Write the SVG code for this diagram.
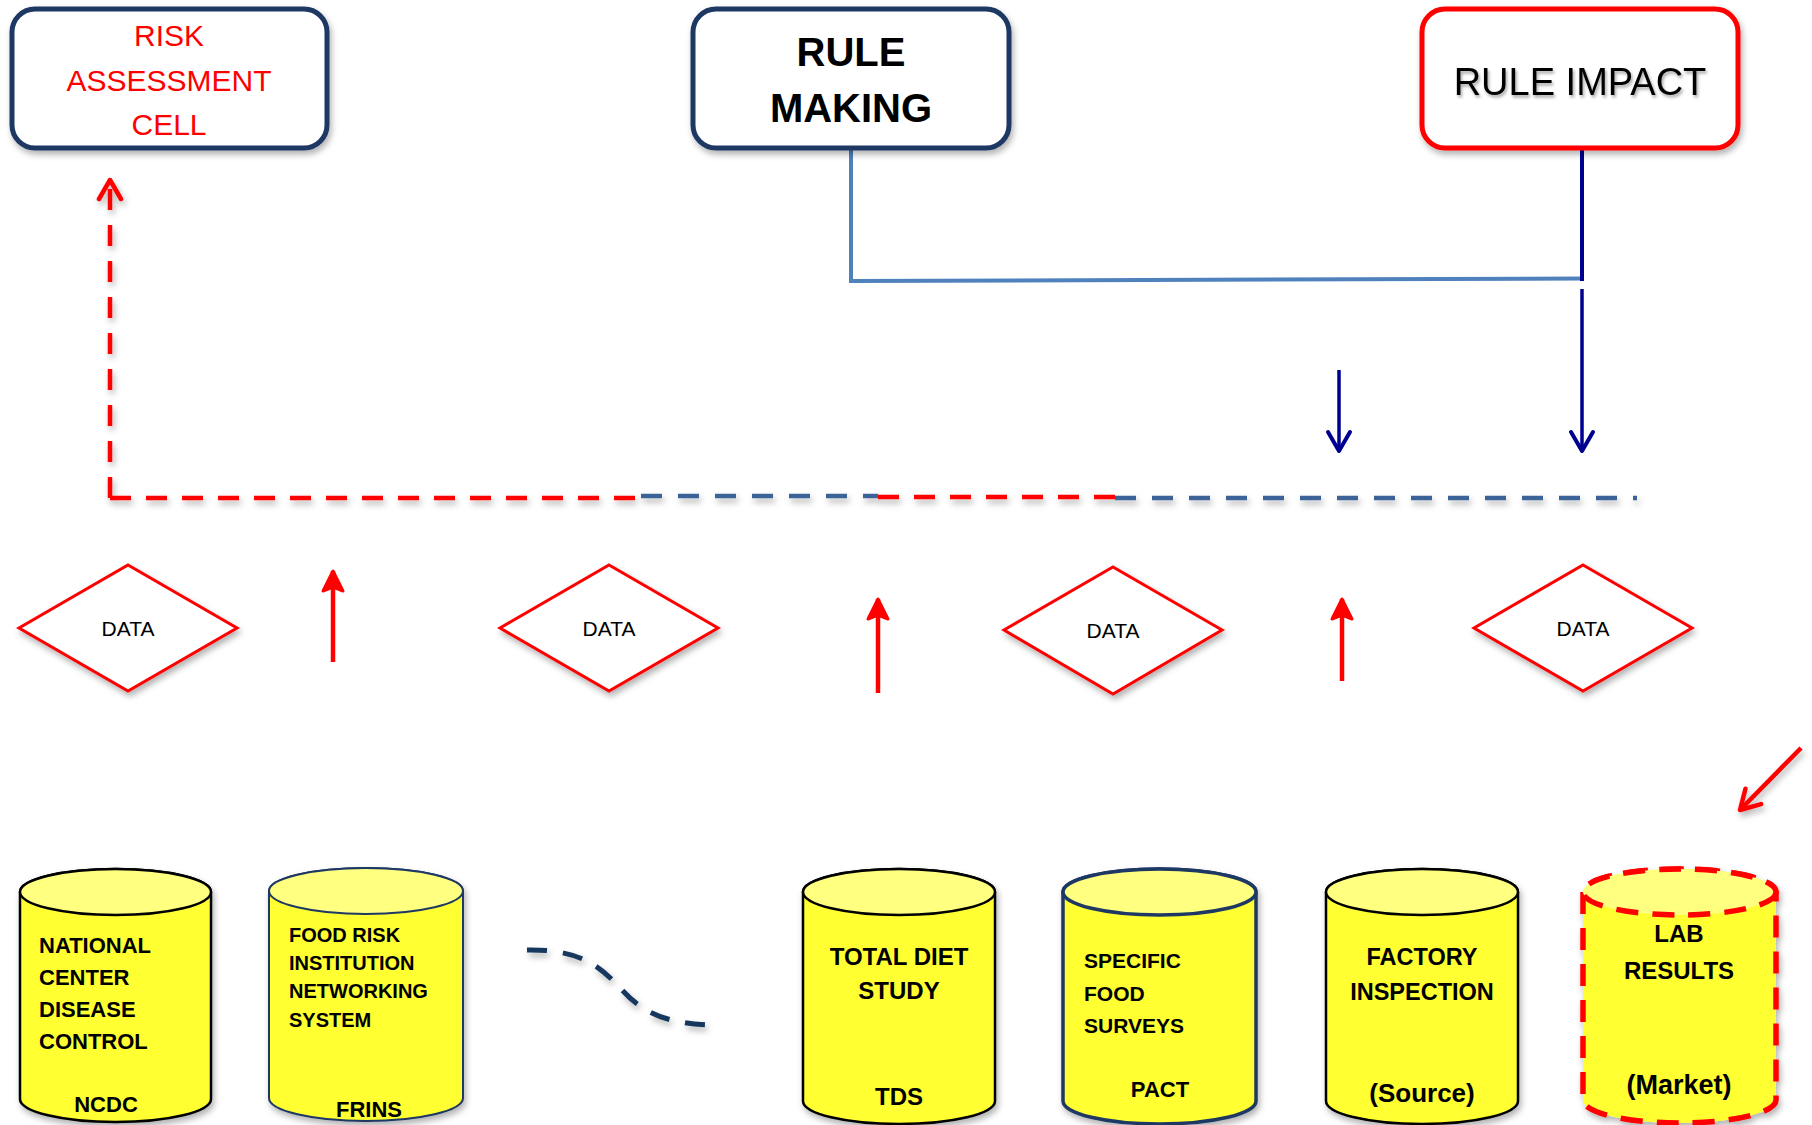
<svg xmlns="http://www.w3.org/2000/svg" width="1812" height="1125" viewBox="0 0 1812 1125">
<style>
.box{fill:#fff;stroke-width:5}
.navy{stroke:#1F3864}
.t{font-family:"Liberation Sans",Arial,sans-serif}
.b{font-weight:bold;fill:#000}
.dia{fill:#fff;stroke:#FF0000;stroke-width:3}
.dtxt{font-family:"Liberation Sans",Arial,sans-serif;font-size:21px;fill:#000;text-anchor:middle}
.body{fill:#FFFF33}
.top{fill:#FFFF80}
.clbl{font-family:"Liberation Sans",Arial,sans-serif;font-weight:bold;fill:#000}
.rdash{fill:none;stroke:#FF0000;stroke-width:4.5;stroke-dasharray:21 15}
.bdash{fill:none;stroke:#3B6497;stroke-width:4.5;stroke-dasharray:21 16}
</style>
<defs>
<filter id="sh" x="-20%" y="-20%" width="140%" height="150%"><feDropShadow dx="2" dy="4" stdDeviation="3" flood-color="#000" flood-opacity="0.3"/></filter>
<filter id="tsh" x="-10%" y="-30%" width="120%" height="160%"><feDropShadow dx="1.5" dy="2.5" stdDeviation="1.5" flood-color="#000" flood-opacity="0.35"/></filter>
<marker id="chevNavy" viewBox="0 0 26 30" refX="23" refY="15" markerWidth="26" markerHeight="30" markerUnits="userSpaceOnUse" orient="auto">
<path d="M3,3 L23,15 L3,27" fill="none" stroke="#1F3864" stroke-width="4.5" stroke-linecap="round" stroke-linejoin="round"/>
</marker>
<marker id="chevDark" viewBox="0 0 26 28" refX="23" refY="14" markerWidth="26" markerHeight="28" markerUnits="userSpaceOnUse" orient="auto">
<path d="M4,3 L23,14 L4,25" fill="none" stroke="#000090" stroke-width="4" stroke-linecap="round" stroke-linejoin="round"/>
</marker>
<marker id="chevRed" viewBox="0 0 26 28" refX="23" refY="14" markerWidth="26" markerHeight="28" markerUnits="userSpaceOnUse" orient="auto">
<path d="M4,3 L23,14 L4,25" fill="none" stroke="#FF0000" stroke-width="4.5" stroke-linecap="round" stroke-linejoin="round"/>
</marker>
<marker id="headRed" viewBox="0 0 26 26" refX="23" refY="13" markerWidth="26" markerHeight="26" markerUnits="userSpaceOnUse" orient="auto">
<path d="M23,13 L3,3 L7,13 L3,23 Z" fill="#FF0000" stroke="#FF0000" stroke-width="3" stroke-linejoin="round"/>
</marker>
</defs>

<g id="connectors">
  <line x1="379" y1="82" x2="572" y2="82" stroke="#1F3864" stroke-width="4.5" marker-end="url(#chevNavy)" filter="url(#sh)"/>
  <polyline points="851,148 851,281 1582,278.5" fill="none" stroke="#4F81BD" stroke-width="4"/>
  <line x1="1582" y1="148" x2="1582" y2="281" stroke="#000090" stroke-width="4"/>
  <line x1="1582" y1="289" x2="1582" y2="451" stroke="#000090" stroke-width="3.5" marker-end="url(#chevDark)"/>
  <line x1="1339" y1="370" x2="1339" y2="451" stroke="#000090" stroke-width="3.5" marker-end="url(#chevDark)"/>
  <g filter="url(#sh)">
    <line class="rdash" x1="110" y1="498" x2="641" y2="498"/>
    <line class="bdash" x1="641" y1="496" x2="878" y2="496"/>
    <line class="rdash" x1="878" y1="497" x2="1115" y2="497"/>
    <line class="bdash" x1="1115" y1="498" x2="1637" y2="498"/>
    <line class="rdash" x1="110" y1="498" x2="110" y2="180" marker-end="url(#chevRed)"/>
  </g>
  <line x1="333" y1="662" x2="333" y2="571" stroke="#FF0000" stroke-width="4.5" marker-end="url(#headRed)"/>
  <line x1="878" y1="693" x2="878" y2="599" stroke="#FF0000" stroke-width="4.5" marker-end="url(#headRed)"/>
  <line x1="1342" y1="681" x2="1342" y2="599" stroke="#FF0000" stroke-width="4.5" marker-end="url(#headRed)"/>
  <line x1="1801" y1="748" x2="1740" y2="810" stroke="#FF0000" stroke-width="4.5" marker-end="url(#chevRed)" filter="url(#sh)"/>
  <path d="M527,950 C585,949 603,970 622,990 C642,1012 665,1023 708,1025" fill="none" stroke="#17375E" stroke-width="5" stroke-dasharray="20 16" filter="url(#sh)"/>
</g>

<g id="risk-assessment-cell">
  <rect class="box navy" x="12" y="9" width="315" height="139" rx="23" filter="url(#sh)"/>
  <g class="t" font-size="30" fill="#FF0000" text-anchor="middle">
    <text x="169" y="46">RISK</text>
    <text x="169" y="91">ASSESSMENT</text>
    <text x="169" y="135">CELL</text>
  </g>
</g>

<g id="rule-making">
  <rect class="box navy" x="693" y="9" width="316" height="139" rx="23" filter="url(#sh)"/>
  <g class="t b" font-size="40" text-anchor="middle">
    <text x="851" y="66">RULE</text>
    <text x="851" y="122">MAKING</text>
  </g>
</g>

<g id="rule-impact">
  <rect class="box" x="1422" y="9" width="316" height="139" rx="23" stroke="#FF0000" filter="url(#sh)"/>
  <text class="t" x="1580" y="95" font-size="38" fill="#000" text-anchor="middle" filter="url(#tsh)">RULE IMPACT</text>
</g>

<g id="data-1">
  <polygon class="dia" points="128,565 237,628 128,691 19,628" filter="url(#sh)"/>
  <text class="dtxt" x="128" y="636">DATA</text>
</g>
<g id="data-2">
  <polygon class="dia" points="609,565 718,628 609,691 500,628" filter="url(#sh)"/>
  <text class="dtxt" x="609" y="636">DATA</text>
</g>
<g id="data-3">
  <polygon class="dia" points="1113,567 1222,630 1113,694 1004,630" filter="url(#sh)"/>
  <text class="dtxt" x="1113" y="638">DATA</text>
</g>
<g id="data-4">
  <polygon class="dia" points="1583,565 1692,628 1583,691 1474,628" filter="url(#sh)"/>
  <text class="dtxt" x="1583" y="636">DATA</text>
</g>

<g id="ncdc">
  <g filter="url(#sh)" stroke="#000" stroke-width="2.5">
    <path class="body" d="M20,892 L20,1099 A95.5,23 0 0 0 211,1099 L211,892 A95.5,23 0 0 0 20,892 Z"/>
    <ellipse class="top" cx="115.5" cy="892" rx="95.5" ry="23"/>
  </g>
  <g class="clbl" font-size="22">
    <text x="39" y="953">NATIONAL</text>
    <text x="39" y="985">CENTER</text>
    <text x="39" y="1017">DISEASE</text>
    <text x="39" y="1049">CONTROL</text>
    <text x="106" y="1112" text-anchor="middle">NCDC</text>
  </g>
</g>

<g id="frins">
  <g filter="url(#sh)" stroke="#1F3864" stroke-width="2">
    <path class="body" d="M269,891 L269,1098 A97,23 0 0 0 463,1098 L463,891 A97,23 0 0 0 269,891 Z"/>
    <ellipse class="top" cx="366" cy="891" rx="97" ry="23"/>
  </g>
  <g class="clbl" font-size="20">
    <text x="289" y="942">FOOD RISK</text>
    <text x="289" y="970">INSTITUTION</text>
    <text x="289" y="998">NETWORKING</text>
    <text x="289" y="1027">SYSTEM</text>
    <text x="369" y="1117" font-size="22" text-anchor="middle">FRINS</text>
  </g>
</g>

<g id="tds">
  <g filter="url(#sh)" stroke="#000" stroke-width="2.5">
    <path class="body" d="M803,892 L803,1101 A96,23 0 0 0 995,1101 L995,892 A96,23 0 0 0 803,892 Z"/>
    <ellipse class="top" cx="899" cy="892" rx="96" ry="23"/>
  </g>
  <g class="clbl" font-size="24" text-anchor="middle">
    <text x="899" y="965">TOTAL DIET</text>
    <text x="899" y="999">STUDY</text>
    <text x="899" y="1105">TDS</text>
  </g>
</g>

<g id="pact">
  <g filter="url(#sh)" stroke="#1F3864" stroke-width="3.5">
    <path class="body" d="M1063,892 L1063,1101 A96.5,23 0 0 0 1256,1101 L1256,892 A96.5,23 0 0 0 1063,892 Z"/>
    <ellipse class="top" cx="1159.5" cy="892" rx="96.5" ry="23"/>
  </g>
  <g class="clbl" font-size="21">
    <text x="1084" y="968">SPECIFIC</text>
    <text x="1084" y="1001">FOOD</text>
    <text x="1084" y="1033">SURVEYS</text>
    <text x="1160" y="1097" font-size="22" text-anchor="middle">PACT</text>
  </g>
</g>

<g id="factory-inspection">
  <g filter="url(#sh)" stroke="#000" stroke-width="2.5">
    <path class="body" d="M1326,892 L1326,1101 A96,23 0 0 0 1518,1101 L1518,892 A96,23 0 0 0 1326,892 Z"/>
    <ellipse class="top" cx="1422" cy="892" rx="96" ry="23"/>
  </g>
  <g class="clbl" font-size="23.5" text-anchor="middle">
    <text x="1422" y="965">FACTORY</text>
    <text x="1422" y="1000">INSPECTION</text>
    <text x="1422" y="1102" font-size="26">(Source)</text>
  </g>
</g>

<g id="lab-results">
  <g filter="url(#sh)" stroke="#FF0000" stroke-width="5.5" stroke-dasharray="22 14">
    <path class="body" d="M1583,892 L1583,1100 A96.5,23 0 0 0 1776,1100 L1776,892 A96.5,23 0 0 0 1583,892 Z"/>
    <ellipse class="top" cx="1679.5" cy="892" rx="96.5" ry="23"/>
  </g>
  <g class="clbl" font-size="24" text-anchor="middle">
    <text x="1679" y="942">LAB</text>
    <text x="1679" y="979">RESULTS</text>
    <text x="1679" y="1094" font-size="27">(Market)</text>
  </g>
</g>
</svg>
